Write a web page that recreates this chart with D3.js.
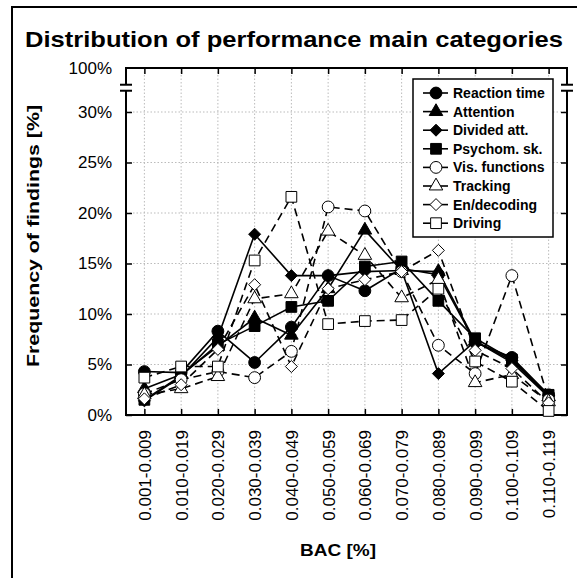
<!doctype html>
<html>
<head>
<meta charset="utf-8">
<script src="https://d3js.org/d3.v7.min.js"></script>
<style>
  body { margin: 0; background: #fff; }
  text { font-family: Arial, "Liberation Sans", sans-serif; }
</style>
</head>
<body>
<svg width="577" height="578"></svg>
<script>
// data (percent of findings per BAC band)
var categories = ["0.001-0.009", "0.010-0.019", "0.020-0.029", "0.030-0.039", "0.040-0.049", "0.050-0.059",
                  "0.060-0.069", "0.070-0.079", "0.080-0.089", "0.090-0.099", "0.100-0.109", "0.110-0.119"];
var reactionTime = [4.3, 4.2, 8.3, 5.2, 8.7, 13.8, 12.3, 14.5, 13.9, 7.2, 5.7, 2.0];
var attention    = [2.6, 4.0, 6.8, 9.6, 7.9, 12.5, 18.3, 14.3, 14.2, 7.3, 5.2, 1.8];
var dividedAtt   = [1.4, 3.8, 7.7, 17.9, 13.8, 13.8, 14.2, 14.3, 4.1, 7.3, 5.4, 1.9];
var psychomSk    = [1.5, 3.9, 7.0, 8.8, 10.7, 11.3, 14.7, 15.2, 11.3, 7.6, 5.5, 2.0];
var visFunctions = [2.1, 3.5, 4.3, 3.7, 6.3, 20.6, 20.2, 14.2, 6.9, 4.1, 13.8, 1.5];
var tracking     = [2.0, 2.6, 3.8, 11.5, 12.0, 18.2, 15.8, 11.6, 13.4, 3.2, 4.0, 1.3];
var enDecoding   = [1.6, 3.0, 6.5, 12.9, 4.8, 12.5, 13.4, 14.2, 16.3, 6.4, 4.6, 1.2];
var driving      = [3.7, 4.8, 4.8, 15.3, 21.6, 9.0, 9.3, 9.4, 12.5, 5.3, 3.3, 0.4];
var yTicks = [0, 5, 10, 15, 20, 25, 30];
var yTopLabel = "100%";

// square turned 45 degrees
var rhomb = {
  draw: function(ctx, size) {
    var r = Math.sqrt(size / 2);
    ctx.moveTo(0, -r); ctx.lineTo(r, 0); ctx.lineTo(0, r); ctx.lineTo(-r, 0); ctx.closePath();
  }
};

var series = [
  {name: "Reaction time",  values: reactionTime, sym: d3.symbolCircle,   size: 110, fill: "#000", dash: null},
  {name: "Attention",      values: attention,    sym: d3.symbolTriangle, size: 80,  fill: "#000", dash: null},
  {name: "Divided att.",   values: dividedAtt,   sym: rhomb,             size: 72,  fill: "#000", dash: null},
  {name: "Psychom. sk.",   values: psychomSk,    sym: d3.symbolSquare,   size: 115, fill: "#000", dash: null},
  {name: "Vis. functions", values: visFunctions, sym: d3.symbolCircle,   size: 110, fill: "#fff", dash: "8,5"},
  {name: "Tracking",       values: tracking,     sym: d3.symbolTriangle, size: 80,  fill: "#fff", dash: "8,5"},
  {name: "En/decoding",    values: enDecoding,   sym: rhomb,             size: 72,  fill: "#fff", dash: "8,5"},
  {name: "Driving",        values: driving,      sym: d3.symbolSquare,   size: 115, fill: "#fff", dash: "8,5"}
];

var svg = d3.select("svg");
var pLeft = 126, pRight = 567, pTop = 68, pBottom = 415;

var x = d3.scalePoint().domain(categories).range([pLeft, pRight]).padding(0.5);
var y = d3.scaleLinear().domain([0, 30]).range([pBottom, 112]);
var breakAt = 32.7;

// outer frame
svg.append("rect").attr("x", 12).attr("y", 7).attr("width", 600).attr("height", 600)
   .attr("fill", "none").attr("stroke", "#000").attr("stroke-width", 2);

svg.append("text").attr("x", 25).attr("y", 47)
   .attr("font-size", 22).attr("font-weight", "bold")
   .attr("textLength", 538).attr("lengthAdjust", "spacingAndGlyphs")
   .text("Distribution of performance main categories");

// grid
var grid = svg.append("g").attr("stroke", "#bbb").attr("stroke-dasharray", "1.5,2").attr("stroke-width", 1);
grid.selectAll(".gy").data(yTicks.slice(1)).enter().append("line")
    .attr("x1", pLeft).attr("x2", pRight).attr("y1", function(d) { return y(d); }).attr("y2", function(d) { return y(d); });
grid.selectAll(".gx").data(categories).enter().append("line")
    .attr("y1", pTop).attr("y2", pBottom).attr("x1", function(d) { return x(d); }).attr("x2", function(d) { return x(d); });

// axes
var yL = d3.axisLeft(y).tickValues(yTicks).tickSize(-6).tickPadding(14).tickFormat(function(d) { return d + "%"; });
var yR = d3.axisRight(y).tickValues(yTicks).tickSize(-6).tickFormat("");
var xB = d3.axisBottom(x).tickSize(-6).tickPadding(10);
var xT = d3.axisTop(x).tickSize(-6).tickFormat("");

function style(g) {
  g.select(".domain").remove();
  g.selectAll(".tick line").attr("stroke", "#000").attr("stroke-width", 1.5);
  g.selectAll("text").attr("font-size", 17).attr("fill", "#000").attr("font-family", "Arial, 'Liberation Sans', sans-serif");
}
svg.append("g").attr("transform", "translate(" + pLeft + ",0)").call(yL).call(style);
svg.append("g").attr("transform", "translate(" + pRight + ",0)").call(yR).call(style);
svg.append("g").attr("transform", "translate(0," + pTop + ")").call(xT).call(style);
var gx = svg.append("g").attr("transform", "translate(0," + pBottom + ")").call(xB).call(style);
gx.selectAll("text").attr("transform", "rotate(-90)").attr("text-anchor", "end")
  .attr("x", -15).attr("y", 0).attr("dy", "0.35em");

// frame lines with the axis break
var frame = svg.append("g").attr("stroke", "#000").attr("stroke-width", 2).attr("fill", "none");
frame.append("line").attr("x1", pLeft - 1).attr("x2", pRight + 1).attr("y1", pBottom).attr("y2", pBottom);
frame.append("line").attr("x1", pLeft - 1).attr("x2", pRight + 1).attr("y1", pTop).attr("y2", pTop);
[pLeft, pRight].forEach(function(ax) {
  frame.append("line").attr("x1", ax).attr("x2", ax).attr("y1", pBottom).attr("y2", y(breakAt) + 6);
  frame.append("line").attr("x1", ax).attr("x2", ax).attr("y1", y(breakAt)).attr("y2", pTop);
  frame.append("line").attr("x1", ax - 6).attr("x2", ax + 6).attr("y1", y(breakAt)).attr("y2", y(breakAt));
  frame.append("line").attr("x1", ax - 6).attr("x2", ax + 6).attr("y1", y(breakAt) + 6).attr("y2", y(breakAt) + 6);
});
svg.append("text").attr("x", pLeft - 14).attr("y", pTop).attr("dy", "0.35em")
   .attr("text-anchor", "end").attr("font-size", 17).text(yTopLabel);

// axis titles
svg.append("text").attr("transform", "translate(39,236) rotate(-90)")
   .attr("text-anchor", "middle").attr("font-size", 17).attr("font-weight", "bold")
   .attr("textLength", 262).attr("lengthAdjust", "spacingAndGlyphs")
   .text("Frequency of findings [%]");
svg.append("text").attr("x", 338).attr("y", 556)
   .attr("text-anchor", "middle").attr("font-size", 17).attr("font-weight", "bold")
   .attr("textLength", 76).attr("lengthAdjust", "spacingAndGlyphs")
   .text("BAC [%]");

// series
var line = d3.line().x(function(d, i) { return x(categories[i]); }).y(function(d) { return y(d); });
series.forEach(function(s) {
  svg.append("path").datum(s.values).attr("d", line)
     .attr("fill", "none").attr("stroke", "#000").attr("stroke-width", 1.6)
     .attr("stroke-dasharray", s.dash);
});
series.forEach(function(s) {
  svg.selectAll(null).data(s.values).enter().append("path")
     .attr("d", d3.symbol().type(s.sym).size(s.size))
     .attr("transform", function(d, i) { return "translate(" + x(categories[i]) + "," + y(d) + ")"; })
     .attr("fill", s.fill).attr("stroke", "#000").attr("stroke-width", 1);
});

// legend
var lg = svg.append("g");
lg.append("rect").attr("x", 413).attr("y", 79).attr("width", 140).attr("height", 158)
  .attr("fill", "#fff").attr("stroke", "#000").attr("stroke-width", 1.5);
var row = lg.selectAll(".row").data(series).enter().append("g")
  .attr("transform", function(d, i) { return "translate(436," + (93 + i * 18.6) + ")"; });
row.append("line").attr("x1", -13).attr("x2", 12).attr("stroke", "#000").attr("stroke-width", 1.6);
row.append("path").attr("d", function(d) { return d3.symbol().type(d.sym).size(d.size)(); })
   .attr("fill", function(d) { return d.fill; }).attr("stroke", "#000");
row.append("text").attr("x", 17).attr("dy", "0.35em").attr("font-size", 14).attr("font-weight", "bold")
   .text(function(d) { return d.name; });
</script>
</body>
</html>
